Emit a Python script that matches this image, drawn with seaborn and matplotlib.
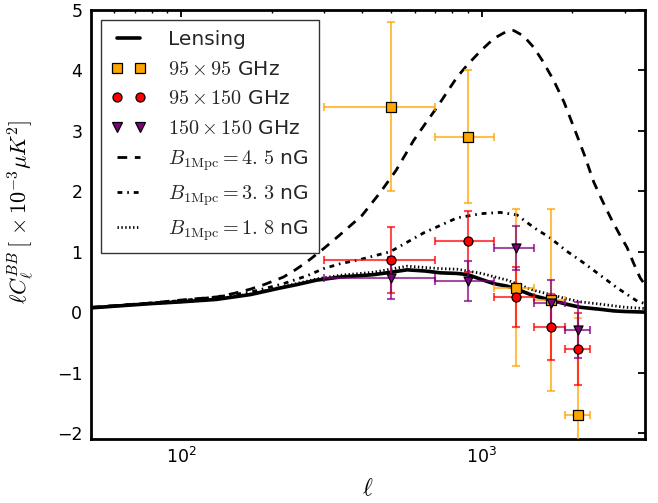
import numpy as np
import pandas as pd
import matplotlib
matplotlib.use("Agg")
import matplotlib.pyplot as plt
import seaborn as sns
from matplotlib.lines import Line2D
from matplotlib.colors import to_rgba

# ---------------- data ----------------
lens_ell = [50, 79, 100, 131, 170, 214, 240, 283, 338, 437, 500, 565, 650, 730, 829, 900,
            1000, 1100, 1216, 1310, 1492, 1700, 1920, 2135, 2500, 2755, 3000, 3500]
lens_val = [0.07, 0.14, 0.17, 0.21, 0.29, 0.40, 0.45, 0.53, 0.58, 0.62, 0.66, 0.70, 0.68, 0.65,
            0.64, 0.62, 0.54, 0.47, 0.43, 0.38, 0.27, 0.20, 0.13, 0.08, 0.045, 0.02, 0.01, 0.0]

b18_ell = [50, 79, 100, 131, 170, 214, 283, 338, 437, 565, 730, 829, 1000, 1216, 1492, 1700,
           1920, 2135, 2500, 3000, 3500]
b18_val = [0.07, 0.14, 0.17, 0.22, 0.30, 0.41, 0.55, 0.61, 0.66, 0.76, 0.72, 0.71, 0.64, 0.53,
           0.36, 0.29, 0.22, 0.17, 0.13, 0.08, 0.06]

b33_ell = [50, 79, 100, 131, 170, 219, 262, 298, 338, 394, 497, 641, 829, 1000, 1153, 1310,
           1492, 1690, 1920, 2180, 2500, 2830, 3300, 3500]
b33_val = [0.07, 0.15, 0.19, 0.25, 0.33, 0.47, 0.60, 0.72, 0.80, 0.87, 1.00, 1.31, 1.56, 1.63,
           1.65, 1.61, 1.40, 1.23, 1.01, 0.82, 0.60, 0.40, 0.18, 0.14]

b45_ell = [50, 79, 100, 131, 150, 170, 190, 219, 240, 262, 298, 338, 400, 460, 520, 594, 650,
           711, 770, 829, 900, 996, 1100, 1216, 1280, 1380, 1492, 1600, 1740, 1880, 2028, 2200,
           2364, 2520, 2690, 2870, 3050, 3200, 3370, 3500]
b45_val = [0.08, 0.15, 0.20, 0.25, 0.31, 0.38, 0.46, 0.58, 0.70, 0.83, 1.05, 1.28, 1.60, 1.98,
           2.35, 2.84, 3.12, 3.39, 3.65, 3.89, 4.10, 4.33, 4.53, 4.65, 4.66, 4.57, 4.38, 4.15,
           3.83, 3.48, 3.06, 2.60, 2.15, 1.85, 1.56, 1.30, 1.07, 0.82, 0.57, 0.45]

bin_ell = [500, 900, 1300, 1700, 2100]
bin_halfwidth = [200, 200, 200, 200, 200]

d95_val = [3.4, 2.9, 0.4, 0.2, -1.7]
d95_err = [1.4, 1.1, 1.3, 1.5, 1.6]
d95x150_val = [0.86, 1.17, 0.25, -0.25, -0.61]
d95x150_err = [0.55, 0.5, 0.5, 0.55, 0.6]
d150_val = [0.57, 0.51, 1.06, 0.15, -0.30]
d150_err = [0.35, 0.33, 0.36, 0.38, 0.46]

labels = ["Lensing", r"$95\times95$ GHz", r"$95\times150$ GHz", r"$150\times150$ GHz",
          r"$B_{1\rm Mpc}=4.\,5$ nG", r"$B_{1\rm Mpc}=3.\,3$ nG", r"$B_{1\rm Mpc}=1.\,8$ nG"]
xticks = [100, 1000]
yticks = [-2, -1, 0, 1, 2, 3, 4, 5]

# ---------------- style ----------------
sns.set_theme(style="white")
plt.rcParams.update({
    "font.family": ["DejaVu Sans"],
    "mathtext.fontset": "cm",
    "lines.scale_dashes": False,
    "axes.edgecolor": "black",
    "xtick.color": "black",
    "ytick.color": "black",
    "axes.labelcolor": "black",
})

fig = plt.figure(figsize=(6.58, 5.03), dpi=100)
ax = fig.add_axes([90.7 / 658, (503 - 439) / 503, (645 - 90.7) / 658, (439 - 10) / 503])

DASH = (0, (7, 5.5))
DASHDOT = (0, (3.5, 3.5, 1.2, 3.5))
DOT = (0, (1.0, 1.8))

curves = [
    (lens_ell, lens_val, "-", 2.6),
    (b45_ell, b45_val, DASH, 2.0),
    (b33_ell, b33_val, DASHDOT, 2.0),
    (b18_ell, b18_val, DOT, 2.0),
]
for ell, val, ls, lw in curves:
    df = pd.DataFrame({"ell": ell, "val": val})
    sns.lineplot(data=df, x="ell", y="val", ax=ax, color="black", linestyle=ls,
                 linewidth=lw, zorder=2, legend=False, estimator=None)

series = [
    (d95_val, d95_err, "s", "#FFA500"),
    (d95x150_val, d95x150_err, "o", "#FF0000"),
    (d150_val, d150_err, "v", "#800080"),
]
for val, err, mk, col in series:
    ax.errorbar(bin_ell, val, yerr=err, xerr=bin_halfwidth, fmt="none",
                ecolor=to_rgba(col, 0.7), elinewidth=1.5, capsize=3, capthick=1.5, zorder=3)
    df = pd.DataFrame({"ell": bin_ell, "val": val})
    sns.scatterplot(data=df, x="ell", y="val", ax=ax, marker=mk, color=col, s=42,
                    edgecolor="black", linewidth=0.9, zorder=4, legend=False)

ax.set_xscale("log")
ax.set_xlim(50, 3500)
ax.set_ylim(-2.1, 5)
ax.set_xticks(xticks)
ax.set_yticks(yticks)
ax.set_yticklabels([str(t).replace("-", "\u2212") for t in yticks])
ax.tick_params(which="both", direction="in", top=True, right=True, labelsize=12.5)
ax.tick_params(which="major", length=5, width=1.3, pad=6)
ax.tick_params(which="minor", length=2.5, width=1.0)
for s in ax.spines.values():
    s.set_linewidth(2.0)

ax.set_xlabel(r"$\ell$", fontsize=17, labelpad=6)
ax.set_ylabel(r"$\ell C_\ell^{BB}\,[\,\times10^{-3}\mu K^2]$", fontsize=16)
ax.yaxis.set_label_coords(-0.098, 0.53)

handles = [
    Line2D([], [], color="black", lw=2.6),
    Line2D([], [], ls="none", marker="s", mfc="#FFA500", mec="black", mew=0.9, ms=6.5),
    Line2D([], [], ls="none", marker="o", mfc="#FF0000", mec="black", mew=0.9, ms=6.5),
    Line2D([], [], ls="none", marker="v", mfc="#800080", mec="black", mew=0.9, ms=6.5),
    Line2D([], [], color="black", lw=2.0, ls=DASH),
    Line2D([], [], color="black", lw=2.0, ls=DASHDOT),
    Line2D([], [], color="black", lw=2.0, ls=DOT),
]
leg = ax.legend(handles, labels, loc="upper left", numpoints=2, fontsize=14.5,
                frameon=True, fancybox=False, edgecolor="#333333", framealpha=1,
                handlelength=1.75, handletextpad=1.1, labelspacing=0.52,
                borderpad=0.5, borderaxespad=0.5)
leg.get_frame().set_linewidth(1.0)

fig.savefig("out.png", dpi=100)
